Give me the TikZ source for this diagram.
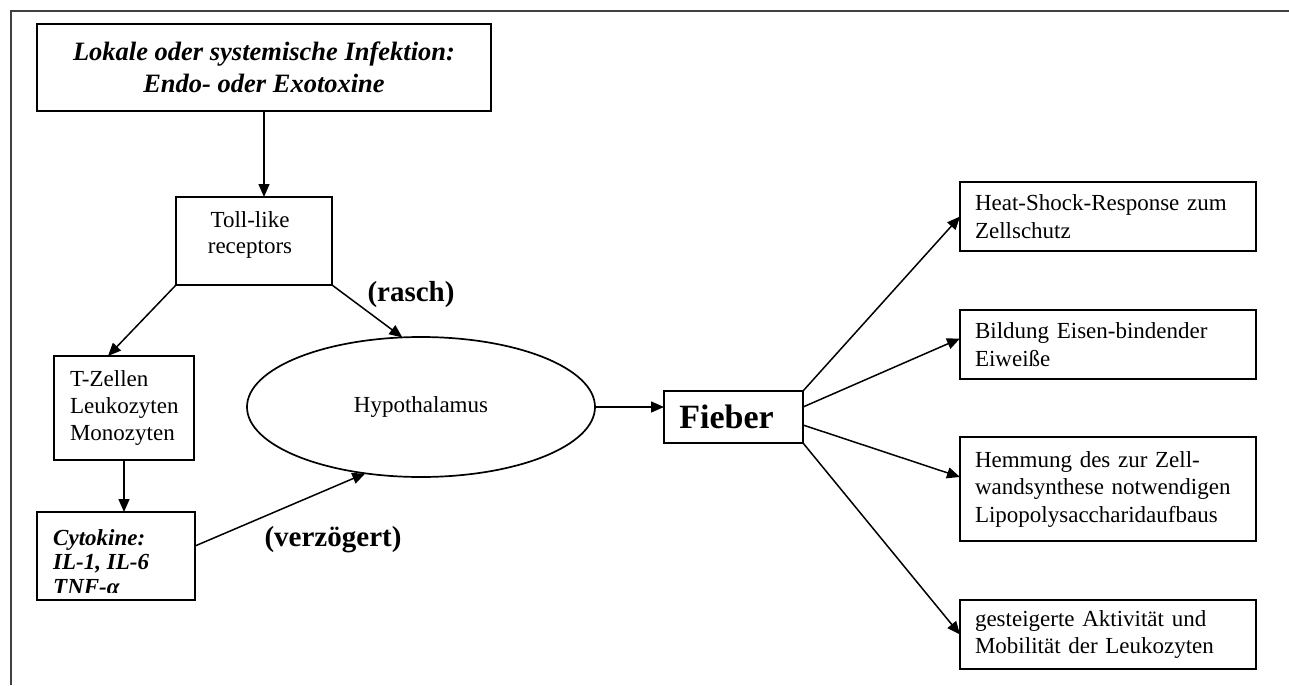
\documentclass[tikz,border=0pt]{standalone}
\usepackage{fontspec}
\setmainfont{Liberation Serif}
\usetikzlibrary{arrows.meta,shapes.geometric}
\begin{document}
\begin{tikzpicture}[x=1pt,y=-1pt,
  box/.style={draw,line width=1.7pt,inner sep=0pt,outer sep=0pt},
  arr/.style={line width=1.5pt,-{Triangle[length=13pt,width=11pt]}},
  rtxt/.style={font=\fontsize{23}{27.5}\selectfont,align=left,inner xsep=15pt,text width=266pt,minimum width=296pt},
  lbl/.style={font=\fontsize{29}{32}\selectfont\bfseries,inner sep=0pt}]
\useasboundingbox (0,0) rectangle (1289,685);
\draw[line width=1.5pt,black!75] (1289,11) -- (11,11) -- (11,685);

\node[box,minimum width=454pt,minimum height=87pt,align=center,
  font=\fontsize{26.5}{32}\selectfont\bfseries\itshape] (inf) at (264,67.5)
  {Lokale oder systemische Infektion:\\Endo- oder Exotoxine};

\node[box,minimum width=156pt,minimum height=88pt,align=center,text depth=16pt,
  font=\fontsize{23}{26}\selectfont] (toll) at (254,241)
  {Toll-like\hspace*{8pt}\\receptors\hspace*{8pt}};

\node[box,minimum width=140pt,minimum height=104pt,align=left,inner xsep=16pt,
  text width=108pt,font=\fontsize{23}{27}\selectfont] (tzell) at (124,408)
  {T-Zellen\\Leukozyten\\Monozyten};

\node[box,minimum width=158pt,minimum height=88pt] (cyto) at (116,556) {};
\begin{scope}
  \clip (37,512) rectangle (195,592);
  \node[anchor=north west,inner sep=0pt,align=left,
    font=\fontsize{23}{24.5}\selectfont\bfseries\itshape] (cytotxt) at (53,529)
    {Cytokine:\\IL-1, IL-6\\TNF-α};
\end{scope}

\node[box,ellipse,minimum width=348pt,minimum height=140pt,
  font=\fontsize{23}{26}\selectfont] (hyp) at (421,407) {Hypothalamus};

\node[box,minimum width=139pt,minimum height=52pt,
  font=\fontsize{34}{36}\selectfont\bfseries] (fieber) at (733.5,417) {Fieber\hspace*{14pt}};

\node[box,rtxt,minimum height=69pt] (heat) at (1108,216.5)
  {Heat-Shock-Response zum\\Zellschutz};
\node[box,rtxt,minimum height=69pt] (bild) at (1108,344.5)
  {Bildung Eisen-bindender\\Eiweiße};
\node[box,rtxt,minimum height=104pt] (hemm) at (1108,489)
  {Hemmung des zur Zell-\\wandsynthese notwendigen\\Lipopolysaccharidaufbaus};
\node[box,rtxt,minimum height=69pt] (gest) at (1108,634.5)
  {gesteigerte Aktivität und\\Mobilität der Leukozyten};

\node[lbl] (rasch) at (411,295) {(rasch)};
\node[lbl] (verz) at (333,540) {(verzögert)};

\draw[arr] (inf.south) -- (inf.south |- toll.north);
\draw[arr] (toll.south west) -- ([xshift=54pt]tzell.north west);
\draw[arr] (toll.south east) -- (hyp.105);
\draw[arr] (tzell.south) -- (tzell.south |- cyto.north);
\draw[arr] ([yshift=10pt]cyto.east) -- (hyp.230);
\draw[arr] (hyp.east) -- (hyp.east -| fieber.west);
\draw[arr] (fieber.north east) -- (heat.west);
\draw[arr] ([yshift=10pt]fieber.east) -- ([yshift=6pt]bild.west);
\draw[arr] ([yshift=-8pt]fieber.east) -- ([yshift=12pt]hemm.west);
\draw[arr] (fieber.south east) -- (gest.west);
\end{tikzpicture}
\end{document}
